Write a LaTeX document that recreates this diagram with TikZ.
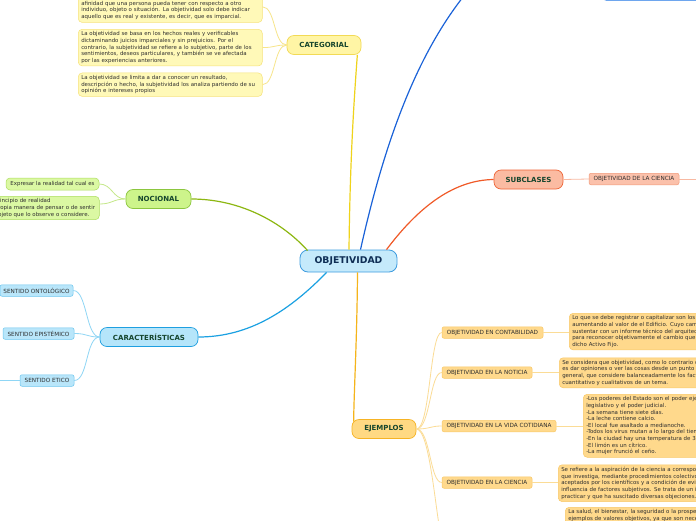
\documentclass[tikz,border=0pt]{standalone}
\usepackage{fontspec}
\setmainfont{DejaVu Sans}
\usetikzlibrary{calc}
\definecolor{rootfill}{HTML}{C5EAFB}
\definecolor{rootdraw}{HTML}{3E9CDF}
\definecolor{roottext}{HTML}{0F2E55}
\definecolor{lvltext}{HTML}{15452D}
\definecolor{txt}{HTML}{2E2E2E}
\definecolor{catfill}{HTML}{FFF5A5}
\definecolor{catdraw}{HTML}{F2DA55}
\definecolor{catline}{HTML}{EFD31B}
\definecolor{catcline}{HTML}{F7E58A}
\definecolor{catcfill}{HTML}{FFF9B8}
\definecolor{catcdraw}{HTML}{F6E27A}
\definecolor{nocfill}{HTML}{CDF48B}
\definecolor{nocdraw}{HTML}{8CC63F}
\definecolor{nocline}{HTML}{8DB712}
\definecolor{noccline}{HTML}{C5E88A}
\definecolor{noccfill}{HTML}{DBF8A3}
\definecolor{noccdraw}{HTML}{ACDD5E}
\definecolor{carfill}{HTML}{B5E5FA}
\definecolor{cardraw}{HTML}{1E9FE0}
\definecolor{carline}{HTML}{1BA1E2}
\definecolor{carcline}{HTML}{8FD6F5}
\definecolor{carcfill}{HTML}{B9E6FA}
\definecolor{carcdraw}{HTML}{6CC6EE}
\definecolor{subfill}{HTML}{FBBBA2}
\definecolor{subdraw}{HTML}{EE6537}
\definecolor{subline}{HTML}{F05A28}
\definecolor{subcline}{HTML}{F8B9A2}
\definecolor{subcfill}{HTML}{FBC1AB}
\definecolor{subcdraw}{HTML}{F19A7A}
\definecolor{ejefill}{HTML}{FFD983}
\definecolor{ejedraw}{HTML}{F6B324}
\definecolor{ejeline}{HTML}{F5B41A}
\definecolor{ejecline}{HTML}{FBDC96}
\definecolor{ejecfill}{HTML}{FFD98C}
\definecolor{ejecdraw}{HTML}{F8C868}
\definecolor{blueline}{HTML}{1A62D8}
\definecolor{topdraw}{HTML}{6EA6EE}
\definecolor{topfill}{HTML}{C9DEFA}
\tikzset{
  rootnode/.style={fill=rootfill, draw=rootdraw, line width=0.8pt, rounded corners=8pt,
    minimum height=22pt, minimum width=97pt, text=roottext,
    font=\fontsize{9.3}{10}\selectfont\bfseries},
  lvl/.style={line width=0.7pt, rounded corners=7pt, minimum height=19pt,
    inner xsep=4pt, text=lvltext, font=\fontsize{7}{8}\selectfont\bfseries},
  lbl/.style={line width=0.5pt, rounded corners=2pt, minimum height=11.5pt,
    inner xsep=3pt, inner ysep=1pt, text=txt, font=\fontsize{5.7}{6}\selectfont},
  desc/.style={line width=0.5pt, rounded corners=4pt, inner xsep=3pt, inner ysep=3pt,
    align=left, anchor=north west, text=txt, font=\fontsize{5.45}{6.6}\selectfont},
  mainln/.style={line width=1.2pt},
  childln/.style={line width=0.8pt},
}
\begin{document}
\begin{tikzpicture}[x=1pt,y=-1pt]
\clip (0,0) rectangle (696,520);
\fill[white] (0,0) rectangle (696,520);

% root and main branches
\node[rootnode] (obj) at (348.5,261) {OBJETIVIDAD};
\node[lvl, fill=catfill, draw=catdraw, minimum width=74pt] (cat) at (324,45) {CATEGORIAL};
\node[lvl, fill=nocfill, draw=nocdraw, minimum width=65pt] (noc) at (158.5,199) {NOCIONAL};
\node[lvl, fill=carfill, draw=cardraw, minimum width=98pt] (car) at (149,337) {CARACTERÍSTICAS};
\node[lvl, fill=subfill, draw=subdraw, minimum width=69pt] (sub) at (528.5,179.5) {SUBCLASES};
\node[lvl, fill=ejefill, draw=ejedraw, minimum width=64pt] (eje) at (384,429) {EJEMPLOS};
\node[draw=topdraw, fill=topfill, line width=0.7pt, rounded corners=3pt, minimum width=110pt,
  minimum height=20pt, anchor=south west] (topbox) at (603,0.8) {};
\coordinate (topc) at (482,-25);

% categorial children
\node[desc, fill=catcfill, draw=catcdraw, text width=178pt, anchor=south west] (c1) at (78,22.7)
 {La objetividad está alejada de los sentimientos y de la\\
  afinidad que una persona pueda tener con respecto a otro\\
  individuo, objeto o situación. La objetividad solo debe indicar\\
  aquello que es real y existente, es decir, que es imparcial.};
\node[desc, fill=catcfill, draw=catcdraw, text width=178pt, inner ysep=2.5pt] (c2) at (78,29)
 {La objetividad se basa en los hechos reales y verificables\\
  dictaminando juicios imparciales y sin prejuicios. Por el\\
  contrario, la subjetividad se refiere a lo subjetivo, parte de los\\
  sentimientos, deseos particulares, y también se ve afectada\\
  por las experiencias anteriores.};
\node[desc, fill=catcfill, draw=catcdraw, text width=178pt, inner ysep=2.5pt] (c3) at (78,72.7)
 {La objetividad se limita a dar a conocer un resultado,\\
  descripción o hecho, la subjetividad los analiza partiendo de su\\
  opinión e intereses propios};

% nocional children
\node[desc, fill=noccfill, draw=noccdraw, anchor=center, minimum width=93pt, minimum height=12pt,
  inner ysep=1pt] (n1) at (52.5,184) {Expresar la realidad tal cual es};
\node[desc, fill=noccfill, draw=noccdraw, text width=101.5pt, inner ysep=2.5pt] (n2) at (-8.5,196)
 {Principio de realidad\\
  propia manera de pensar o de sentir\\
  objeto que lo observe o considere.};

% caracteristicas children
\node[lbl, fill=carcfill, draw=carcdraw, minimum width=73pt] (ont) at (36.5,290.5) {SENTIDO ONTOLÓGICO};
\node[lbl, fill=carcfill, draw=carcdraw, minimum width=71pt] (epi) at (38.5,333.5) {SENTIDO EPISTÉMICO};
\node[lbl, fill=carcfill, draw=carcdraw, minimum width=54pt] (eti) at (47,380.5) {SENTIDO ETICO};
\coordinate (etil) at (-12,380.5);

% subclases child
\node[lbl, fill=subcfill, draw=subcdraw, minimum width=90pt] (oc) at (634,179) {OBJETIVIDAD DE LA CIENCIA};
\coordinate (ocr) at (712,179);

% ejemplos children
\node[lbl, fill=ejecfill, draw=ejecdraw, minimum width=101pt] (ec1) at (492.5,332.5) {OBJETIVIDAD EN CONTABILIDAD};
\node[lbl, fill=ejecfill, draw=ejecdraw, minimum width=90pt] (ec2) at (487,372.5) {OBJETIVIDAD EN LA NOTICIA};
\node[lbl, fill=ejecfill, draw=ejecdraw, minimum width=114pt] (ec3) at (499,426) {OBJETIVIDAD EN LA VIDA COTIDIANA};
\node[lbl, fill=ejecfill, draw=ejecdraw, minimum width=90pt] (ec4) at (487,482.5) {OBJETIVIDAD EN LA CIENCIA};
\coordinate (ec5) at (442,540);

\node[desc, fill=ejecfill, draw=ejecdraw, text width=260pt, inner ysep=2.5pt] (d1) at (569,313)
 {Lo que se debe registrar o capitalizar son los gastos que van\\
  aumentando al valor de el Edificio. Cuyo cambio se debe\\
  sustentar con un informe técnico del arquitecto o ingeniero\\
  para reconocer objetivamente el cambio que sufre\\
  dicho Activo Fijo.};
\node[desc, fill=ejecfill, draw=ejecdraw, text width=260pt, inner ysep=2.5pt] (d2) at (559,357.5)
 {Se considera que objetividad, como lo contrario de subjetividad,\\
  es dar opiniones o ver las cosas desde un punto de vista\\
  general, que considere balanceadamente los factores\\
  cuantitativo y cualitativos de un tema.};
\node[desc, fill=ejecfill, draw=ejecdraw, text width=260pt, inner ysep=2.5pt] (d3) at (583,394)
 {-Los poderes del Estado son el poder ejecutivo, el poder\\
  legislativo y el poder judicial.\\
  -La semana tiene siete días.\\
  -La leche contiene calcio.\\
  -El local fue asaltado a medianoche.\\
  -Todos los virus mutan a lo largo del tiempo.\\
  -En la ciudad hay una temperatura de 30 °C.\\
  -El limón es un cítrico.\\
  -La mujer frunció el ceño.};
\node[desc, fill=ejecfill, draw=ejecdraw, text width=260pt, inner ysep=2.5pt] (d4) at (558,464.5)
 {Se refiere a la aspiración de la ciencia a corresponder con la realidad\\
  que investiga, mediante procedimientos colectivos\\
  aceptados por los científicos y a condición de evitar la\\
  influencia de factores subjetivos. Se trata de un ideal difícil de\\
  practicar y que ha suscitado diversas objeciones.};
\node[desc, fill=ejecfill, draw=ejecdraw, text width=260pt, inner ysep=2.5pt] (d5) at (565,507)
 {La salud, el bienestar, la seguridad o la prosperidad son\\
  ejemplos de valores objetivos, ya que son necesarios};

% main connectors
\draw[mainln, catline] ($(obj.north)+(0.5,0)$) .. controls (350,160) and (354,100) .. ($(cat.south east)+(-4,0)$);
\draw[mainln, blueline] ($(obj.north)+(12,0)$) .. controls (385,140) and (420,40) .. (topc);
\draw[mainln, subline] ($(obj.north)+(38,0)$) .. controls (420,205) and (455,180) .. (sub.west);
\draw[mainln, nocline] ($(obj.north west)+(8,1)$) .. controls (282,222) and (240,199) .. (noc.east);
\draw[mainln, carline] ($(obj.south west)+(27,0)$) .. controls (290,310) and (250,337) .. (car.east);
\draw[mainln, ejeline] ($(obj.south)+(9,0)$) .. controls (357,340) and (354,390) .. ($(eje.north west)+(2,2.5)$);

% child connectors
\foreach \c in {c1,c2,c3}
  \draw[childln, catcline] (cat.west) .. controls +(-13,0) and +(13,0) .. (\c.east);
\draw[childln, noccline] (noc.west) .. controls +(-13,0) and +(13,0) .. (n1.east);
\draw[childln, noccline] (noc.west) .. controls +(-13,0) and +(13,0) .. ($(n2.north east)+(0,8)$);
\foreach \c in {ont,epi,eti}
  \draw[childln, carcline] (car.west) .. controls +(-14,0) and +(14,0) .. (\c.east);
\draw[childln, carcline] (eti.west) -- (etil);
\draw[childln, subcline] (sub.east) -- (oc.west);
\draw[childln, subcline] (oc.east) -- (ocr);
\foreach \c in {ec1,ec2,ec3,ec4}
  \draw[childln, ejecline] (eje.east) .. controls +(14,0) and +(-12,0) .. (\c.west);
\draw[childln, ejecline] (eje.east) .. controls +(14,0) and +(-6,-20) .. (ec5);
\draw[childln, ejecline] (ec1.east) -- (ec1.east -| d1.west);
\draw[childln, ejecline] (ec2.east) -- (ec2.east -| d2.west);
\draw[childln, ejecline] (ec3.east) -- (ec3.east -| d3.west);
\draw[childln, ejecline] (ec4.east) -- (ec4.east -| d4.west);
\end{tikzpicture}
\end{document}
